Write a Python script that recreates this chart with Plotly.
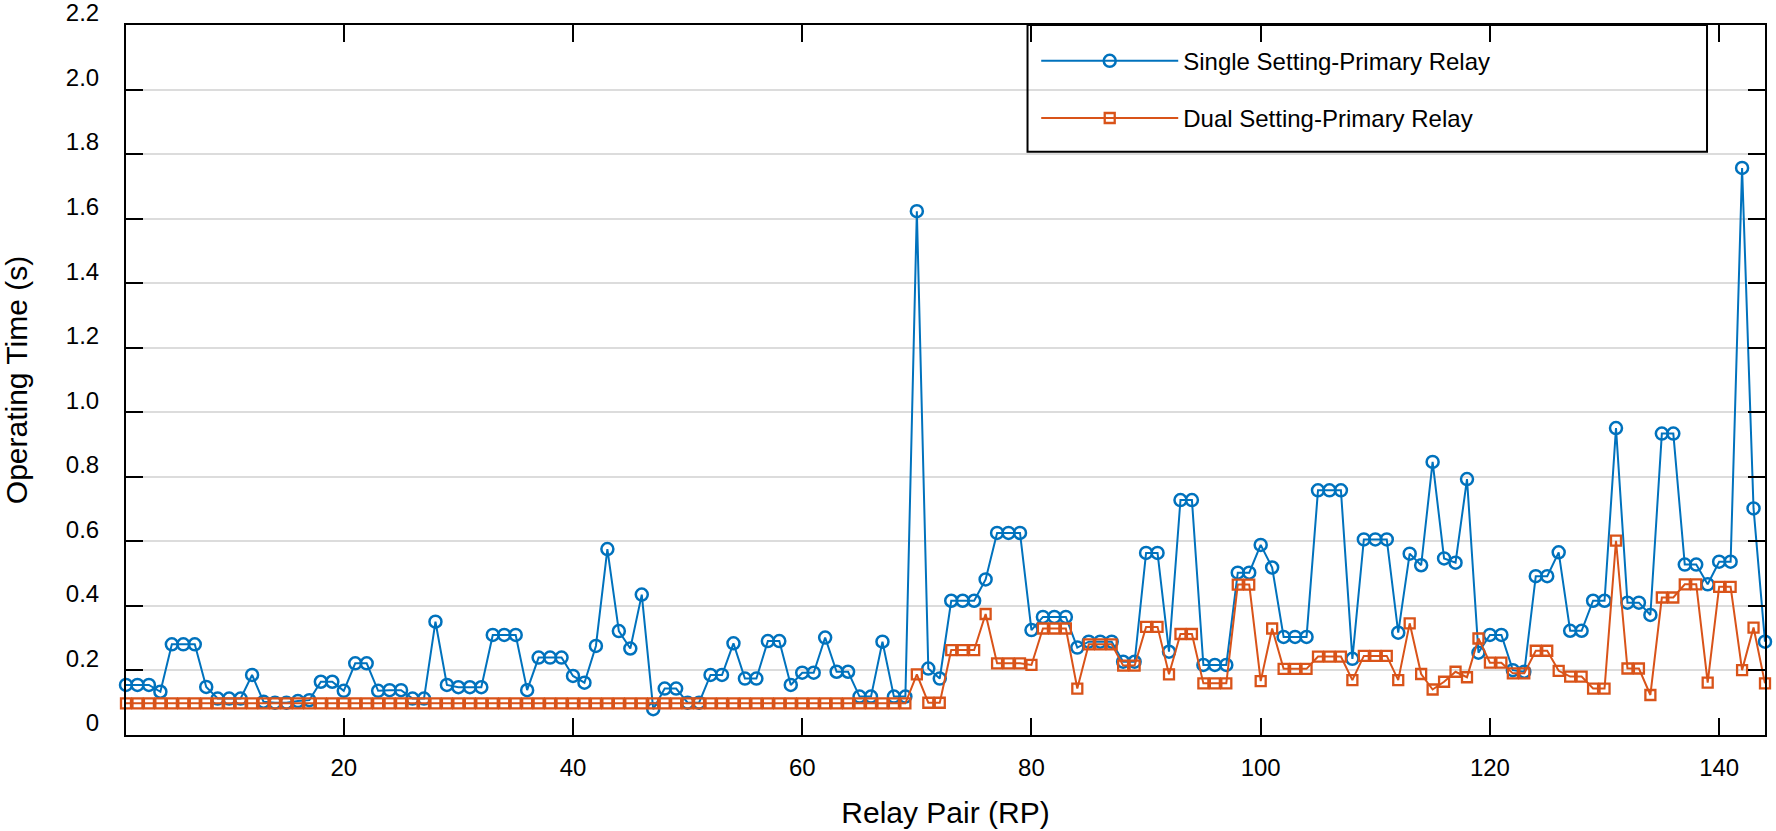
import plotly.graph_objects as go

relay_pair = list(range(1, 145))

single_setting = [
    0.155, 0.155, 0.155, 0.134, 0.281, 0.281, 0.281, 0.149, 0.113, 0.113,
    0.113, 0.186, 0.103, 0.100, 0.100, 0.105, 0.108, 0.165, 0.165, 0.137,
    0.222, 0.222, 0.137, 0.139, 0.139, 0.113, 0.113, 0.351, 0.155, 0.148,
    0.148, 0.148, 0.310, 0.310, 0.310, 0.139, 0.240, 0.240, 0.240, 0.183,
    0.162, 0.276, 0.576, 0.322, 0.268, 0.435, 0.080, 0.144, 0.144, 0.100,
    0.100, 0.186, 0.186, 0.284, 0.175, 0.175, 0.291, 0.291, 0.155, 0.193,
    0.193, 0.302, 0.196, 0.196, 0.119, 0.119, 0.289, 0.119, 0.119, 1.623,
    0.206, 0.175, 0.416, 0.416, 0.416, 0.482, 0.626, 0.626, 0.626, 0.325,
    0.366, 0.366, 0.366, 0.271, 0.289, 0.289, 0.289, 0.227, 0.227, 0.564,
    0.564, 0.258, 0.728, 0.728, 0.217, 0.217, 0.217, 0.503, 0.503, 0.589,
    0.519, 0.304, 0.304, 0.304, 0.758, 0.758, 0.758, 0.236, 0.606, 0.606,
    0.606, 0.317, 0.562, 0.526, 0.846, 0.547, 0.534, 0.793, 0.255, 0.310,
    0.310, 0.201, 0.196, 0.492, 0.492, 0.566, 0.323, 0.323, 0.416, 0.416,
    0.951, 0.410, 0.410, 0.372, 0.934, 0.934, 0.528, 0.528, 0.467, 0.537,
    0.537, 1.757, 0.702, 0.289,
]

dual_setting = [0.098] * 69 + [
    0.188, 0.100, 0.100, 0.263, 0.263, 0.263, 0.375, 0.222, 0.222, 0.222,
    0.217, 0.330, 0.330, 0.330, 0.144, 0.281, 0.281, 0.281, 0.215, 0.215,
    0.335, 0.335, 0.188, 0.313, 0.313, 0.160, 0.160, 0.160, 0.466, 0.466,
    0.167, 0.330, 0.205, 0.205, 0.205, 0.243, 0.243, 0.243, 0.170, 0.245,
    0.245, 0.245, 0.170, 0.346, 0.189, 0.141, 0.165, 0.196, 0.179, 0.299,
    0.224, 0.224, 0.191, 0.191, 0.261, 0.261, 0.199, 0.181, 0.181, 0.144,
    0.144, 0.602, 0.206, 0.206, 0.124, 0.426, 0.426, 0.467, 0.467, 0.162,
    0.459, 0.459, 0.201, 0.333, 0.160,
]

x_ticks = [20, 40, 60, 80, 100, 120, 140]
y_ticks = [0, 0.2, 0.4, 0.6, 0.8, 1.0, 1.2, 1.4, 1.6, 1.8, 2.0, 2.2]
y_tick_text = ["0", "0.2", "0.4", "0.6", "0.8", "1.0", "1.2", "1.4", "1.6", "1.8", "2.0", "2.2"]

BLUE = "#0072BD"
ORANGE = "#D95319"
FONT = "Liberation Sans, Arial, sans-serif"

fig = go.Figure()
fig.add_trace(go.Scatter(
    x=relay_pair, y=single_setting, mode="lines+markers",
    name="Single Setting-Primary Relay", legendgroup="a",
    line=dict(color=BLUE, width=2),
    marker=dict(symbol="circle-open", size=12, color=BLUE, line=dict(width=2.5)),
    cliponaxis=False,
))
fig.add_trace(go.Scatter(
    x=relay_pair, y=dual_setting, mode="lines+markers",
    name="Dual Setting-Primary Relay", legendgroup="b",
    line=dict(color=ORANGE, width=2),
    marker=dict(symbol="square-open", size=10, color=ORANGE, line=dict(width=2.3)),
    cliponaxis=False,
))

L, R, T, B = 125.5, 1765, 25, 735
W, H = 1776, 831

fig.update_layout(
    width=W, height=H,
    margin=dict(l=L, r=W - R, t=T, b=H - B, pad=0),
    paper_bgcolor="white", plot_bgcolor="white",
    font=dict(family=FONT, color="black"),
    showlegend=True,
    legend=dict(
        x=(1036 - L) / (R - L), y=(B - 38.7) / (B - T),
        xanchor="left", yanchor="top",
        bgcolor="rgba(0,0,0,0)", borderwidth=0,
        font=dict(family=FONT, size=24, color="black"),
        itemwidth=137, tracegroupgap=23, traceorder="grouped",
    ),
    shapes=[dict(
        type="rect", xref="paper", yref="paper",
        x0=(1027.3 - L) / (R - L), x1=(1707 - L) / (R - L),
        y0=(B - 151.7) / (B - T), y1=1.0,
        line=dict(color="black", width=2), fillcolor="rgba(0,0,0,0)",
    )],
)

fig.update_xaxes(
    range=[1, 144], tickmode="array", tickvals=x_ticks,
    ticks="inside", ticklen=17, tickwidth=2, tickcolor="black",
    showline=True, linewidth=2, linecolor="black", mirror="ticks",
    showgrid=False, zeroline=False, automargin=False,
    tickfont=dict(family=FONT, size=24, color="black"),
    ticklabelstandoff=10,
    title=dict(text="Relay Pair (RP)", font=dict(family=FONT, size=30, color="black"), standoff=22),
)
fig.update_yaxes(
    range=[0, 2.2], tickmode="array", tickvals=y_ticks, ticktext=y_tick_text,
    ticks="inside", ticklen=17, tickwidth=2, tickcolor="black",
    showline=True, linewidth=2, linecolor="black", mirror="ticks",
    showgrid=True, gridcolor="#dcdcdc", gridwidth=2, zeroline=False, automargin=False,
    tickfont=dict(family=FONT, size=24, color="black"),
    ticklabelstandoff=20, ticklabelshift=-12, ticklabeloverflow="allow",
    title=dict(text="Operating Time (s)", font=dict(family=FONT, size=30, color="black"), standoff=30),
)

fig.write_html(
    "out.html",
    config={"displayModeBar": False},
    post_script="document.body.style.margin='0';document.body.style.overflow='hidden';",
)
